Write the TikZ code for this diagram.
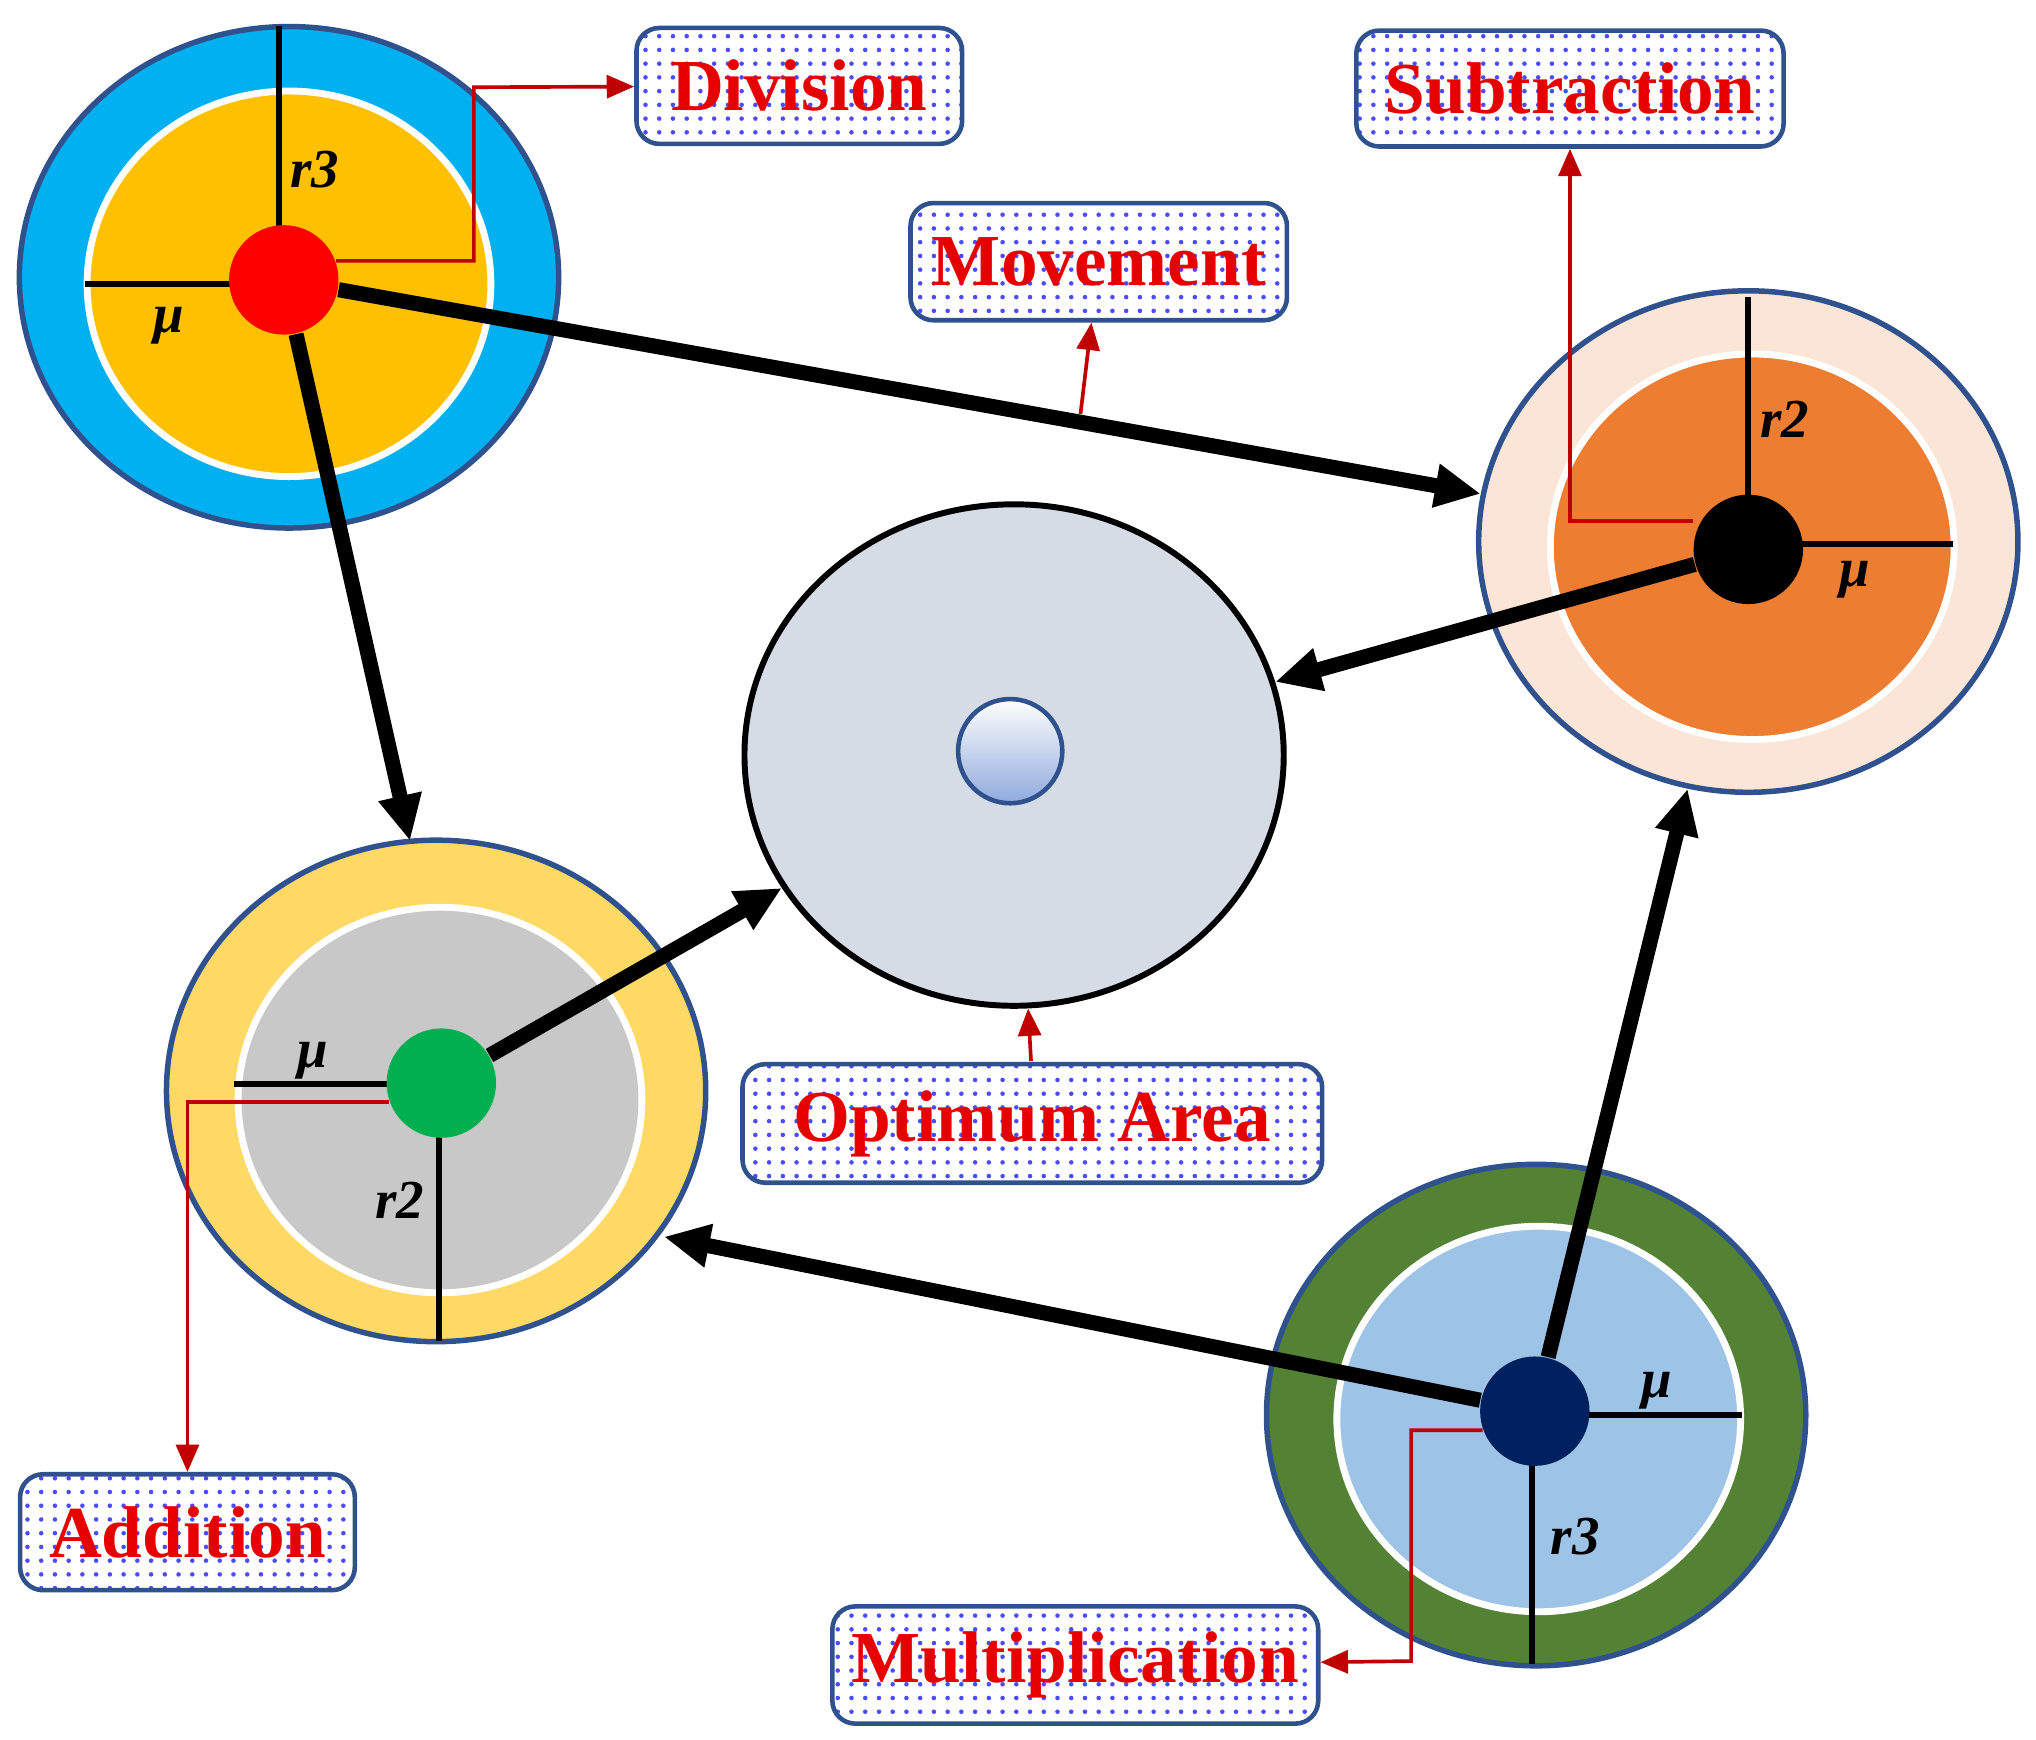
\documentclass[tikz,border=0pt]{standalone}
\usepackage{fontspec}
\setmainfont{Liberation Serif}
\usetikzlibrary{shapes.geometric,arrows.meta,patterns}
\definecolor{bd}{RGB}{47,82,143}
\definecolor{lbl}{RGB}{230,0,0}
\definecolor{con}{RGB}{192,0,0}
\begin{document}
\begin{tikzpicture}[x=0.01cm,y=-0.01cm,
 outer/.style={ellipse,draw=bd,line width=1.2pt,minimum width=4.14cm,minimum height=3.85cm,inner sep=0},
 inner/.style={ellipse,draw=white,line width=1.5pt,minimum width=3.1cm,minimum height=2.96cm,inner sep=0},
 dot/.style={circle,minimum size=0.84cm,inner sep=0},
 box/.style={draw=bd,line width=1pt,rounded corners=5pt,preaction={fill=white},pattern=dots,pattern color=blue!70,inner sep=0,text=lbl,font=\fontsize{16}{19}\selectfont\bfseries},
 rad/.style={line width=1.3pt},
 sym/.style={font=\fontsize{12}{14}\selectfont\bfseries\itshape},
 big/.style={-{Triangle[length=10pt,width=9pt]},line width=3.3pt},
 thin/.style={con,line width=0.8pt,-{Triangle[length=6pt,width=5pt]}}]
\useasboundingbox (0,0) rectangle (1564,1336);
% ellipses
\node[outer,fill={rgb,255:red,0;green,176;blue,240}] (A) at (222,213) {};
\node[inner,fill={rgb,255:red,255;green,192;blue,0}] (Ai) at (222,218) {};
\node[outer,fill={rgb,255:red,251;green,229;blue,214}] (B) at (1343,416) {};
\node[inner,fill={rgb,255:red,237;green,125;blue,49}] (Bi) at (1346,420) {};
\node[ellipse,draw=black,line width=1.3pt,minimum width=4.14cm,minimum height=3.85cm,fill={rgb,255:red,214;green,220;blue,229}] (O) at (779,580) {};
\node[circle,draw=bd,line width=1pt,minimum size=0.8cm,inner sep=0,top color=white,bottom color={rgb,255:red,143;green,170;blue,220}] (Oc) at (776,577) {};
\node[outer,fill={rgb,255:red,255;green,217;blue,102}] (C) at (335,838) {};
\node[inner,fill={rgb,255:red,200;green,200;blue,200}] (Ci) at (338,845) {};
\node[outer,fill={rgb,255:red,84;green,130;blue,53}] (D) at (1180,1087) {};
\node[inner,fill={rgb,255:red,157;green,195;blue,230}] (Di) at (1182,1090) {};
% radii lines
\coordinate (a1) at (214,20); \coordinate (a2) at (214,178);
\coordinate (a3) at (65,218); \coordinate (a4) at (180,218);
\draw[rad] (a1)--(a2); \draw[rad] (a3)--(a4);
\coordinate (b1) at (1343,228); \coordinate (b2) at (1343,384);
\coordinate (b3) at (1383,418); \coordinate (b4) at (1500,418);
\draw[rad] (b1)--(b2); \draw[rad] (b3)--(b4);
\coordinate (c1) at (180,833); \coordinate (c2) at (300,833);
\coordinate (c3) at (337,870); \coordinate (c4) at (337,1030);
\draw[rad] (c1)--(c2); \draw[rad] (c3)--(c4);
\coordinate (d1) at (1218,1087); \coordinate (d2) at (1338,1087);
\coordinate (d3) at (1177,1122); \coordinate (d4) at (1177,1278);
\draw[rad] (d1)--(d2); \draw[rad] (d3)--(d4);
% dots
\node[dot,fill=red] (Ad) at (218,215) {};
\node[dot,fill=black] (Bd) at (1343,422) {};
\node[dot,fill={rgb,255:red,0;green,176;blue,80}] (Cd) at (339,832) {};
\node[dot,fill={rgb,255:red,0;green,32;blue,96}] (Dd) at (1179,1084) {};
% symbols
\node[sym] (s1) at (242,130) {r3};
\node[sym] (s2) at (130,250) {μ};
\node[sym] (s3) at (1371,322) {r2};
\node[sym] (s4) at (1425,445) {μ};
\node[sym] (s5) at (240,815) {μ};
\node[sym] (s6) at (307,922) {r2};
\node[sym] (s7) at (1273,1068) {μ};
\node[sym] (s8) at (1210,1180) {r3};
% boxes
\node[box,minimum width=2.5cm,minimum height=0.89cm] (div) at (614,66) {Division};
\node[box,minimum width=3.28cm,minimum height=0.89cm] (sub) at (1206,68) {Subtraction};
\node[box,minimum width=2.89cm,minimum height=0.9cm] (mov) at (844,201) {Movement};
\node[box,minimum width=4.45cm,minimum height=0.91cm] (opt) at (793,863) {Optimum Area};
\node[box,minimum width=2.57cm,minimum height=0.89cm] (add) at (144,1177) {Addition};
\node[box,minimum width=3.73cm,minimum height=0.9cm] (mul) at (826,1279) {Multiplication};
% big arrows
\draw[big] (Ad) -- (B);
\draw[big] (Ad) -- (315,646);
\draw[big] (Bd) -- (O);
\draw[big] (Cd) -- (O);
\draw[big] (Dd) -- (510,950);
\draw[big] (Dd) -- (B);
% thin connectors
\draw[thin] (Ad.20) -| (364,67) -- (div);
\draw[thin] (Bd.west) ++(0,-22) -| (sub);
\coordinate (m0) at (830,318); \draw[thin] (m0) -- (mov);
\coordinate (o0) at (792,815); \draw[thin] (o0) -- (O);
\draw[thin] (Cd.200) -| (add);
\draw[thin] (Dd.200) -| (1084,1276) -- (mul);
\end{tikzpicture}
\end{document}
